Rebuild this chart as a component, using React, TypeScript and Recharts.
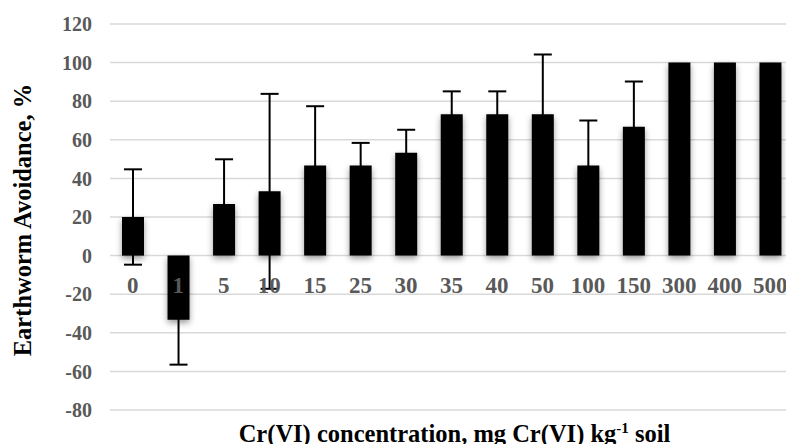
import { BarChart, Bar, XAxis, YAxis, CartesianGrid, ErrorBar, Rectangle } from 'recharts';

const concentrations = ['0', '1', '5', '10', '15', '25', '30', '35', '40', '50', '100', '150', '300', '400', '500'];
const avoidance = [20, -33.3, 26.7, 33.3, 46.7, 46.7, 53.3, 73.3, 73.3, 73.3, 46.7, 66.7, 100, 100, 100];
const stdDev = [24.7, 23.2, 23.2, 50.5, 30.7, 11.7, 11.9, 11.8, 11.8, 30.9, 23.3, 23.5, 0, 0, 0];
const yTicks = [-80, -60, -40, -20, 0, 20, 40, 60, 80, 100, 120];

const Y_MIN = -80;
const Y_MAX = 120;
const CHART_W = 800;
const CHART_H = 444;
const TOP = 24;
const XAXIS_H = 34;
const PLOT_H = CHART_H - TOP - XAXIS_H;
// distance from plot bottom up to the zero line
const ZERO_FROM_BOTTOM = (PLOT_H * (0 - Y_MIN)) / (Y_MAX - Y_MIN);

const FONT = '"Liberation Serif", "Times New Roman", serif';

const data = concentrations.map((c, i) => ({
  name: c,
  value: avoidance[i],
  err: stdDev[i],
}));

// Excel puts category labels next to the zero line, not at the bottom
const CategoryTick = ({ x, y, payload }: any) => (
  <text
    x={x}
    y={y - ZERO_FROM_BOTTOM + 37}
    textAnchor="middle"
    fill="#595959"
    fontFamily={FONT}
    fontWeight={700}
    fontSize={23}
  >
    {payload.value}
  </text>
);

const XTitle = ({ viewBox }: any) => (
  <text
    x={viewBox.x + viewBox.width / 2 + 3}
    y={viewBox.y + viewBox.height - 2}
    textAnchor="middle"
    fill="#000"
    fontFamily={FONT}
    fontWeight={700}
    fontSize={24.5}
  >
    Cr(VI) concentration, mg Cr(VI) kg
    <tspan dy={-9} fontSize={15}>-1</tspan>
    <tspan dy={9}> soil</tspan>
  </text>
);

const YTitle = ({ viewBox }: any) => {
  const cx = viewBox.x + 22;
  const cy = viewBox.y + viewBox.height / 2 + 3;
  return (
    <text
      x={cx}
      y={cy}
      transform={`rotate(-90, ${cx}, ${cy})`}
      textAnchor="middle"
      dominantBaseline="central"
      fill="#000"
      fontFamily={FONT}
      fontWeight={700}
      fontSize={24.5}
    >
      Earthworm Avoidance, %
    </text>
  );
};

const ShadowBar = (props: any) => (
  <Rectangle {...props} style={{ filter: 'drop-shadow(0px 3px 3px rgba(0,0,0,0.4))' }} />
);

export default function App() {
  return (
    <div style={{ position: 'absolute', top: 0, left: 0, width: 786, height: 444, overflow: 'hidden', background: '#fff' }}>
      <BarChart
        width={CHART_W}
        height={CHART_H}
        data={data}
        margin={{ top: TOP, right: 7, left: 0, bottom: 0 }}
      >
        <CartesianGrid vertical={false} stroke="#d9d9d9" strokeWidth={1.5} />
        <XAxis
          dataKey="name"
          height={XAXIS_H}
          axisLine={false}
          tickLine={false}
          tickSize={0}
          tickMargin={0}
          interval={0}
          tick={<CategoryTick />}
          label={<XTitle />}
        />
        <YAxis
          width={110}
          domain={[Y_MIN, Y_MAX]}
          ticks={yTicks}
          axisLine={false}
          tickLine={false}
          tickSize={0}
          tickMargin={18}
          tick={{ fill: '#595959', fontFamily: FONT, fontWeight: 700, fontSize: 20 }}
          label={<YTitle />}
        />
        <Bar dataKey="value" fill="#000" barSize={22} shape={<ShadowBar />} isAnimationActive={false}>
          <ErrorBar dataKey="err" width={9} stroke="#000" strokeWidth={2} direction="y" />
        </Bar>
      </BarChart>
    </div>
  );
}
